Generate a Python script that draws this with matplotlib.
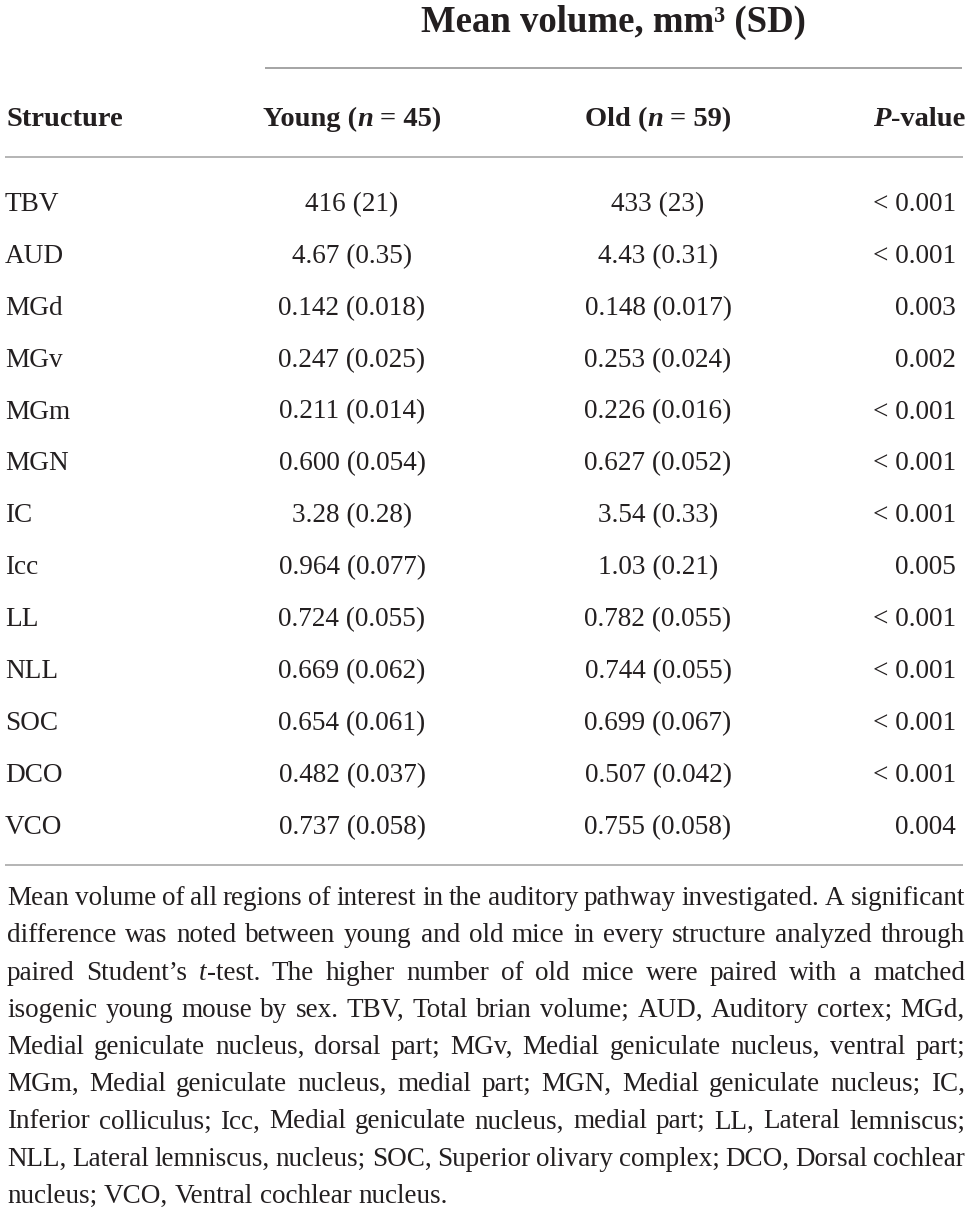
import matplotlib
matplotlib.use("Agg")
import matplotlib.pyplot as plt

# table data
structures = ["TBV", "AUD", "MGd", "MGv", "MGm", "MGN", "IC", "Icc", "LL", "NLL", "SOC", "DCO", "VCO"]
young_mean = ["416", "4.67", "0.142", "0.247", "0.211", "0.600", "3.28", "0.964", "0.724", "0.669", "0.654", "0.482", "0.737"]
young_sd = ["21", "0.35", "0.018", "0.025", "0.014", "0.054", "0.28", "0.077", "0.055", "0.062", "0.061", "0.037", "0.058"]
old_mean = ["433", "4.43", "0.148", "0.253", "0.226", "0.627", "3.54", "1.03", "0.782", "0.744", "0.699", "0.507", "0.755"]
old_sd = ["23", "0.31", "0.017", "0.024", "0.016", "0.052", "0.33", "0.21", "0.055", "0.055", "0.067", "0.042", "0.058"]
p_values = ["< 0.001", "< 0.001", "0.003", "0.002", "< 0.001", "< 0.001", "< 0.001", "0.005",
            "< 0.001", "< 0.001", "< 0.001", "< 0.001", "0.004"]

title = "Mean volume, mm³ (SD)"
n_young = 45
n_old = 59

# footnote, one entry per printed line; _t_ marks italic
footnote = [
    "Mean volume of all regions of interest in the auditory pathway investigated. A significant",
    "difference was noted between young and old mice in every structure analyzed through",
    "paired Student’s _t_-test. The higher number of old mice were paired with a matched",
    "isogenic young mouse by sex. TBV, Total brian volume; AUD, Auditory cortex; MGd,",
    "Medial geniculate nucleus, dorsal part; MGv, Medial geniculate nucleus, ventral part;",
    "MGm, Medial geniculate nucleus, medial part; MGN, Medial geniculate nucleus; IC,",
    "Inferior colliculus; Icc, Medial geniculate nucleus, medial part; LL, Lateral lemniscus;",
    "NLL, Lateral lemniscus, nucleus; SOC, Superior olivary complex; DCO, Dorsal cochlear",
    "nucleus; VCO, Ventral cochlear nucleus.",
]

FONT = "Liberation Serif"
INK = "#231f20"
RULE = "#8c8c8c"

fig = plt.figure(figsize=(9.72, 12.14), dpi=100)
ax = fig.add_axes([0, 0, 1, 1])
ax.set_xlim(0, 972)
ax.set_ylim(1214, 0)
ax.axis("off")
r = fig.canvas.get_renderer()


def make(s, size, weight="normal", style="normal"):
    return ax.text(0, 0, s, fontsize=size, fontweight=weight, fontstyle=style,
                   family=FONT, color=INK, va="baseline", ha="left")


def width(t):
    return t.get_window_extent(r).width


def space_w(size, weight="normal"):
    a = make("n n", size, weight)
    b = make("nn", size, weight)
    w = width(a) - width(b)
    a.remove()
    b.remove()
    return w


def runs(x, y, parts, size, weight="normal", ha="left"):
    # parts: (text, style); text " " is a measured space
    sp = space_w(size, weight)
    items = []
    for s, st in parts:
        if s == " ":
            items.append((None, sp))
        else:
            t = make(s, size, weight, st)
            items.append((t, width(t)))
    total = sum(w for _, w in items)
    if ha == "center":
        cur = x - total / 2
    elif ha == "right":
        cur = x - total
    else:
        cur = x
    for t, w in items:
        if t is not None:
            t.set_position((cur, y))
        cur += w


def word_parts(word):
    if "_" in word:
        bits = word.split("_")
        out = []
        for i, b in enumerate(bits):
            if b:
                out.append((b, "italic" if i % 2 == 1 else "normal"))
        return out
    return [(word, "normal")]


# header
runs(613, 32, [(title, "normal")], 26.5, "bold", "center")
ax.plot([265, 962], [68, 68], color=RULE, lw=1.1, solid_capstyle="butt")

HS = 20.5
runs(6, 126, [("Structure", "normal")], HS, "bold")
runs(352, 126, [("Young (", "normal"), ("n", "italic"), (" ", "normal"),
                ("= %d)" % n_young, "normal")], HS, "bold", "center")
runs(658, 126, [("Old (", "normal"), ("n", "italic"), (" ", "normal"),
                ("= %d)" % n_old, "normal")], HS, "bold", "center")
runs(965, 126, [("P", "italic"), ("-value", "normal")], HS, "bold", "right")
ax.plot([5, 963], [157, 157], color="#a0a0a0", lw=1.1, solid_capstyle="butt")

# body rows
BS = 19.6
y0 = 211
step = 51.9
for i, name in enumerate(structures):
    y = y0 + i * step
    runs(5, y, [(name, "normal")], BS)
    runs(352, y, [("%s (%s)" % (young_mean[i], young_sd[i]), "normal")], BS, ha="center")
    runs(658, y, [("%s (%s)" % (old_mean[i], old_sd[i]), "normal")], BS, ha="center")
    runs(956, y, [(p_values[i], "normal")], BS, ha="right")

ax.plot([5, 963], [865, 865], color="#a0a0a0", lw=1.1, solid_capstyle="butt")

# justified footnote
FS = 19.5
left, right = 7, 965
fy0 = 905
fstep = 37.25
sp = space_w(FS)
for k, line in enumerate(footnote):
    y = fy0 + k * fstep
    words = line.split(" ")
    groups = []
    for wd in words:
        ts = []
        for s, st in word_parts(wd):
            t = make(s, FS, "normal", st)
            ts.append((t, width(t)))
        groups.append(ts)
    wsum = [sum(w for _, w in g) for g in groups]
    if k < len(footnote) - 1 and len(groups) > 1:
        gap = (right - left - sum(wsum)) / (len(groups) - 1)
    else:
        gap = sp
    cur = left
    for g, gw in zip(groups, wsum):
        c = cur
        for t, w in g:
            t.set_position((c, y))
            c += w
        cur += gw + gap

fig.savefig("out.png", dpi=100)
